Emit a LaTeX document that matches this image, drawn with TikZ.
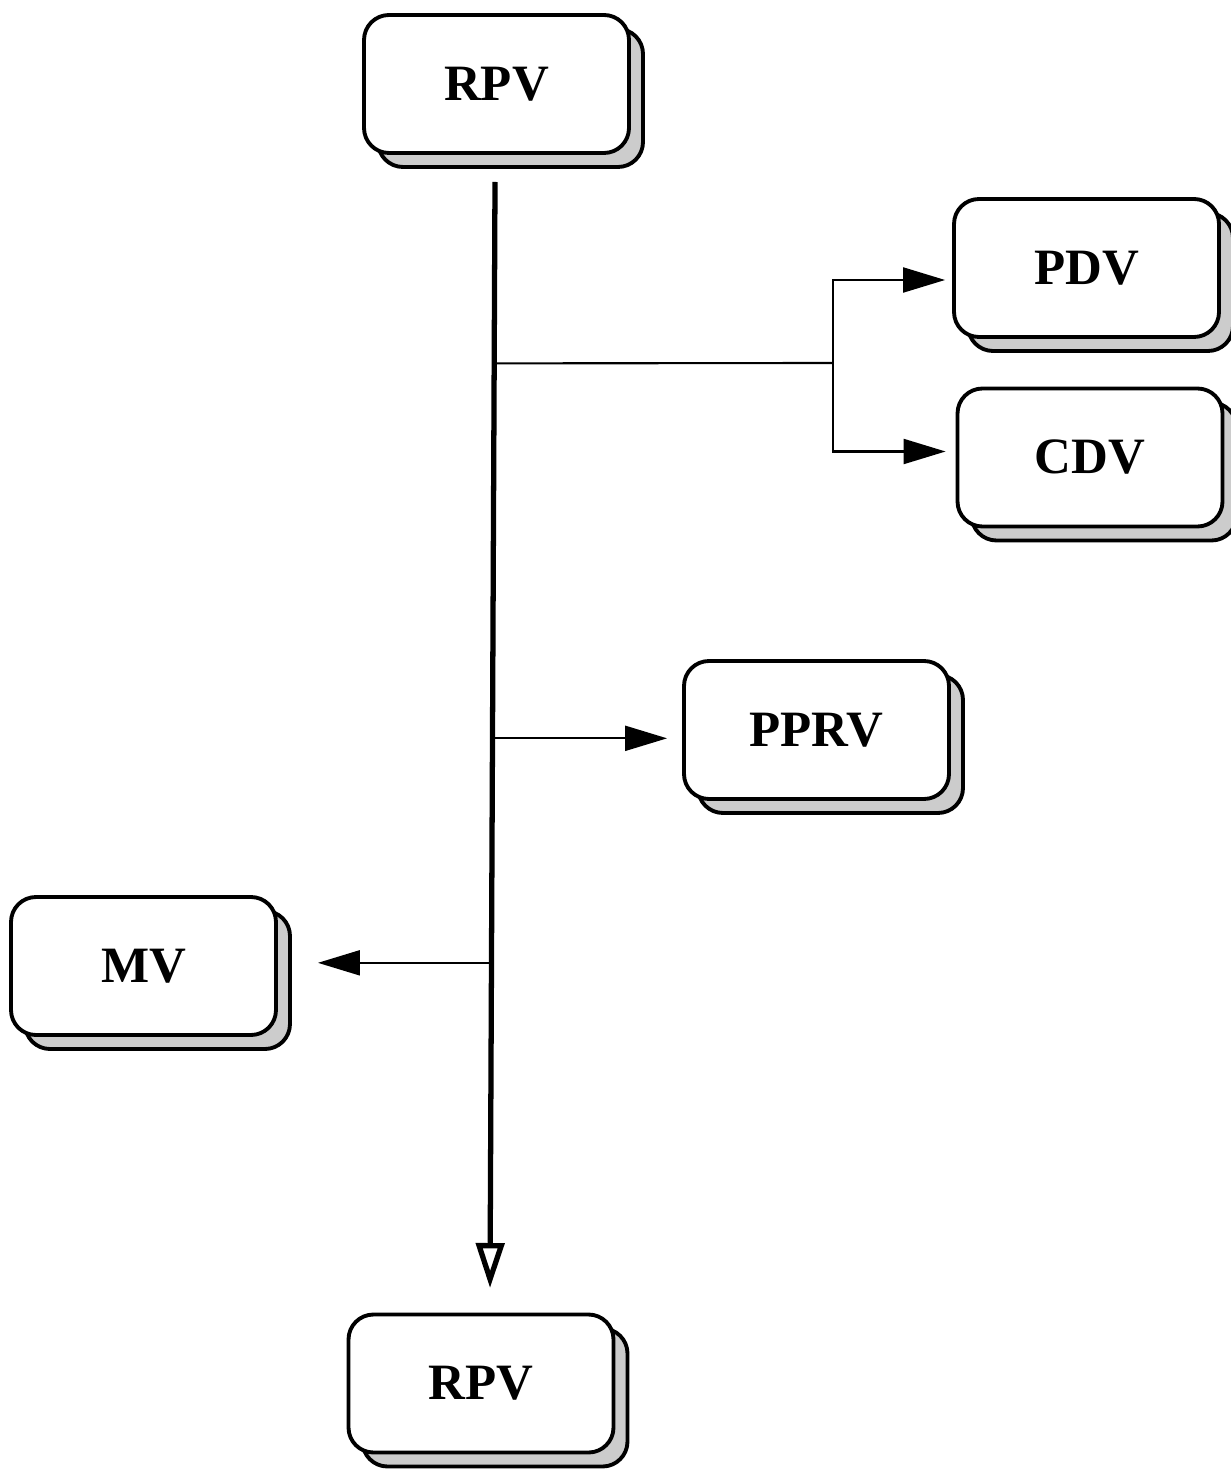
\documentclass[tikz,border=0pt]{standalone}
\usepackage{fontspec}
\setmainfont{Liberation Serif}
\usetikzlibrary{shadows,arrows.meta,calc}

\begin{document}
\begin{tikzpicture}[
		box/.style={draw=black, line width=1.1pt, fill=white, rounded corners=0.25cm,
			minimum width=2.65cm, minimum height=1.38cm,
			font=\fontsize{14.5}{16}\selectfont\bfseries,
			general shadow={shadow xshift=0.14cm, shadow yshift=-0.14cm,
				fill=gray!40, draw=black, line width=1.1pt}},
		mainline/.style={line width=1.5pt, -{Triangle[open,length=4.5mm,width=2.8mm]}},
		branch/.style={line width=0.6pt},
		arr/.style={line width=0.6pt, -{Triangle[length=4.2mm,width=2.5mm]}}
	]
		\useasboundingbox (0,0) rectangle (12.31,-14.70);
		% boxes
		\node[box] (RPV1) at (4.965,-0.84) {RPV};
		\node[box] (PDV) at (10.865,-2.68) {PDV};
		\node[box] (CDV) at (10.90,-4.575) {CDV};
		\node[box] (PPRV) at (8.165,-7.30) {PPRV};
		\node[box] (MV) at (1.435,-9.66) {MV};
		\node[box] (RPV2) at (4.81,-13.835) {RPV};
		% main line
		\coordinate (top) at (4.95,-1.82);
		\coordinate (bot) at (4.90,-12.88);
		\draw[mainline] (top) -- (bot);
		\coordinate (j1) at ($(top)!0.164!(bot)$);
		\coordinate (j2) at ($(top)!0.503!(bot)$);
		\coordinate (j3) at ($(top)!0.706!(bot)$);
		% branches
		\coordinate (split) at (8.33,-3.63);
		\draw[branch] (j1) -- (split);
		\draw[arr, shorten >=0.07cm] (split) |- ([yshift=-0.12cm]PDV.west);
		\draw[arr, shorten >=0.1cm] (split) |- ([yshift=0.06cm]CDV.west);
		\draw[arr, shorten >=0.15cm] (j2) -- (j2 -| PPRV.west);
		\draw[arr, shorten >=0.4cm] (j3) -- (j3 -| MV.east);
\end{tikzpicture}
\end{document}
